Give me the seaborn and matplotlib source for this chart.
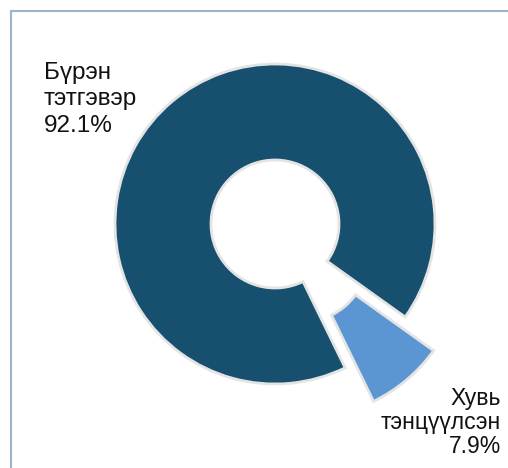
import matplotlib
matplotlib.use("Agg")
import matplotlib.pyplot as plt
import seaborn as sns
from matplotlib.lines import Line2D

# data
labels = ["Бүрэн\nтэтгэвэр", "Хувь\nтэнцүүлсэн"]
shares = [92.1, 7.9]
colors = ["#17506e", "#5b96d2"]
explode = [0.0, 44.0]   # pie uses data units here since radius is in pixels

sns.set_theme(style="white")
plt.rcParams['font.family'] = ['Liberation Sans', 'DejaVu Sans']

fig = plt.figure(figsize=(5.08, 4.68), dpi=100)
ax = fig.add_axes([0, 0, 1, 1])
ax.axis("off")

# donut, small slice pulled out to the lower right
wedges, _ = ax.pie(shares, colors=colors, explode=explode, center=(275, 244),
                   radius=160, startangle=-64, counterclock=False,
                   wedgeprops=dict(width=96, edgecolor="#e4e4e4", linewidth=2))
ax.set_xlim(0, 508)
ax.set_ylim(0, 468)
ax.set_aspect("equal")

ax.text(44, 406, f"{labels[0]}\n{shares[0]:.1f}%", ha="left", va="top",
        fontsize=17.5, linespacing=1.25, color="#111111")
ax.text(501, 10, f"{labels[1]}\n{shares[1]:.1f}%", ha="right", va="bottom",
        fontsize=16.5, linespacing=1.05, color="#111111", multialignment="right")

# frame (top and left edges visible)
fig.add_artist(Line2D([11 / 508, 1], [1 - 11 / 468, 1 - 11 / 468],
                      color="#9fb3c8", lw=1.5, transform=fig.transFigure))
fig.add_artist(Line2D([11 / 508, 11 / 508], [0, 1 - 11 / 468],
                      color="#9fb3c8", lw=1.5, transform=fig.transFigure))

fig.savefig("out.png", dpi=100, facecolor="white")
